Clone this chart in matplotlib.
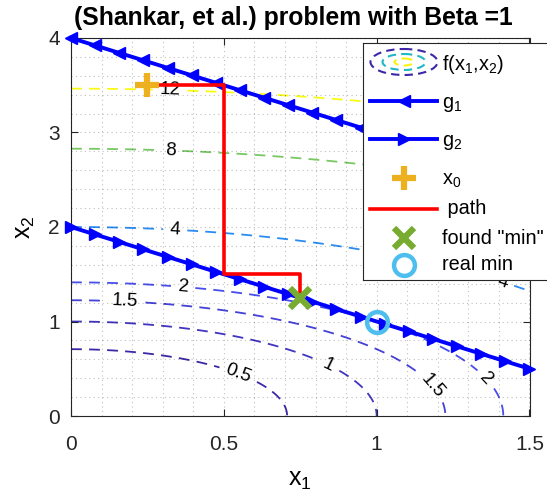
import numpy as np
import matplotlib
matplotlib.use("Agg")
import matplotlib.pyplot as plt
from matplotlib.colors import LinearSegmentedColormap, Normalize
from matplotlib.patches import Ellipse

plt.rcParams['font.family'] = ['Liberation Sans', 'DejaVu Sans']
plt.rcParams['mathtext.fontset'] = 'custom'
plt.rcParams['mathtext.rm'] = 'Liberation Sans'
plt.rcParams['mathtext.it'] = 'Liberation Sans'

# ---- data ----
levels = [0.5, 1, 1.5, 2, 4, 8, 12]
g1_x = [0.0, 1.5]
g1_y = [4.0, 2.5]
g2_x = [0.0, 1.5]
g2_y = [2.0, 0.5]
n_marks = 20
x0 = (0.25, 3.5)
path_x = [0.25, 0.5, 0.5, 0.75, 0.75]
path_y = [3.5, 3.5, 1.5, 1.5, 1.25]
found_min = (0.75, 1.25)
real_min = (1.0, 1.0)
label_pos = [(0.324, 3.42), (0.324, 2.78), (0.34, 1.94), (1.41, 1.40),
             (0.366, 1.333), (1.348, 0.36), (0.177, 1.153), (1.165, 0.275),
             (0.838, 0.508), (0.543, 0.402)]
legend_labels = [r'f($\mathrm{x}_1$,$\mathrm{x}_2$)', r'$\mathrm{g}_1$', r'$\mathrm{g}_2$',
                 r'$\mathrm{x}_0$', ' path', 'found "min"', 'real min']

parula_pts = [(0.2422, 0.1504, 0.6603), (0.2810, 0.3228, 0.9579),
              (0.1786, 0.5289, 0.9682), (0.0689, 0.6948, 0.8394),
              (0.2161, 0.7843, 0.5923), (0.6720, 0.7793, 0.2227),
              (0.9970, 0.7659, 0.2199), (0.9769, 0.9839, 0.0805)]
parula = LinearSegmentedColormap.from_list('parula', parula_pts)

BLUE = (0, 0, 1)
RED = (1, 0, 0)
ORANGE = (0.929, 0.694, 0.125)
GREEN = (0.466, 0.674, 0.188)
LBLUE = (0.301, 0.745, 0.933)
AXC = '#262626'

W, H = 547, 495
fig = plt.figure(figsize=(W/100, H/100), dpi=100)
L, R, T, B = 71, 529.5, 38, 416
ax = fig.add_axes([L/W, 1-B/H, (R-L)/W, (B-T)/H])

xs = np.linspace(0, 1.5, 500)
ys = np.linspace(0, 4, 500)
X, Y = np.meshgrid(xs, ys)
F = X**2 + Y**2
norm = Normalize(vmin=min(levels), vmax=max(levels))
cs = ax.contour(X, Y, F, levels=levels, cmap=parula, norm=norm,
                linewidths=1.3, linestyles=[(0, (6, 4))])
ax.clabel(cs, inline=True, fontsize=13.5, fmt=lambda v: f"{v:g}",
          manual=label_pos, inline_spacing=7, colors='k')

gx1 = np.linspace(g1_x[0], g1_x[1], n_marks)
gy1 = np.interp(gx1, g1_x, g1_y)
gx2 = np.linspace(g2_x[0], g2_x[1], n_marks)
gy2 = np.interp(gx2, g2_x, g2_y)
ax.plot(gx1, gy1, '-', color=BLUE, lw=2.8, marker='<', ms=8, clip_on=False, zorder=5)
ax.plot(gx2, gy2, '-', color=BLUE, lw=2.8, marker='>', ms=8, clip_on=False, zorder=5)
ax.plot(path_x, path_y, '-', color=RED, lw=2.6, zorder=6)
ax.plot([x0[0]], [x0[1]], '+', color=ORANGE, ms=17, mew=4.5, zorder=7)
ax.plot([found_min[0]], [found_min[1]], 'x', color=GREEN, ms=15, mew=4.5, zorder=7)
ax.plot([real_min[0]], [real_min[1]], 'o', mfc='none', mec=LBLUE, ms=15, mew=3.2, zorder=7)

ax.set_xlim(0, 1.5)
ax.set_ylim(0, 4)
ax.set_xticks([0, 0.5, 1, 1.5])
ax.set_xticklabels(['0', '0.5', '1', '1.5'])
ax.set_yticks([0, 1, 2, 3, 4])
ax.set_xticks(np.arange(0, 1.51, 0.1), minor=True)
ax.set_yticks(np.arange(0, 4.01, 0.2), minor=True)
ax.tick_params(which='both', direction='in', top=True, right=True, labelsize=15, colors=AXC)
ax.tick_params(which='minor', length=0)
ax.tick_params(which='major', length=5)
ax.tick_params(axis='x', which='major', pad=14)
ax.tick_params(axis='y', which='major', pad=8)
ax.grid(True, which='both', linestyle=(0, (1, 3)), color='k', alpha=0.25, lw=0.8)
ax.set_axisbelow(False)
for s in ax.spines.values():
    s.set_color(AXC)
    s.set_linewidth(0.8)

t = ax.set_title('(Shankar, et al.) problem with Beta =1', fontsize=17.8, fontweight='bold', pad=9)
t.set_x(0.485)
ax.set_xlabel(r'$\mathrm{x}_1$', fontsize=18, labelpad=10)
ax.set_ylabel(r'$\mathrm{x}_2$', fontsize=18, labelpad=8)

# ---- legend box (drawn in pixel units) ----
LL, LR, LT, LB = 363, 552, 43, 280
lax = fig.add_axes([LL/W, 1-LB/H, (LR-LL)/W, (LB-LT)/H])
lax.set_xlim(LL, LR)
lax.set_ylim(LB, LT)
lax.set_xticks([])
lax.set_yticks([])
for s in lax.spines.values():
    s.set_color(AXC)
    s.set_linewidth(0.8)
lax.set_zorder(10)

hx0, hx1, hxc, tx = 370, 437, 404, 442
rows = [62, 101, 139, 178, 209, 238, 265]
for (w, h, col) in [(67, 26, parula(0.0)), (43, 16, (0.13, 0.72, 0.78)), (19, 7, (0.98, 0.95, 0.08))]:
    lax.add_patch(Ellipse((hxc, rows[0]), w, h, fill=False, edgecolor=col, lw=1.5,
                          linestyle=(0, (4, 2.5))))
lax.plot([hx0, hx1], [rows[1]] * 2, color=BLUE, lw=2.8)
lax.plot([hxc], [rows[1]], marker='<', color=BLUE, ms=9)
lax.plot([hx0, hx1], [rows[2]] * 2, color=BLUE, lw=2.8)
lax.plot([hxc], [rows[2]], marker='>', color=BLUE, ms=9)
lax.plot([hxc], [rows[3]], marker='+', color=ORANGE, ms=17, mew=4.5)
lax.plot([hx0, hx1], [rows[4]] * 2, color=RED, lw=2.6)
lax.plot([hxc], [rows[5]], marker='x', color=GREEN, ms=15, mew=4.5)
lax.plot([hxc], [rows[6]], marker='o', mfc='none', mec=LBLUE, ms=15, mew=3.2)
offs = [3, 3, 3, 3, 0, 0, 0]
for r, o, lab in zip(rows, offs, legend_labels):
    lax.text(tx, r + o, lab, fontsize=14.3, va='center', ha='left', color='k')

fig.savefig('out.png', dpi=100)
